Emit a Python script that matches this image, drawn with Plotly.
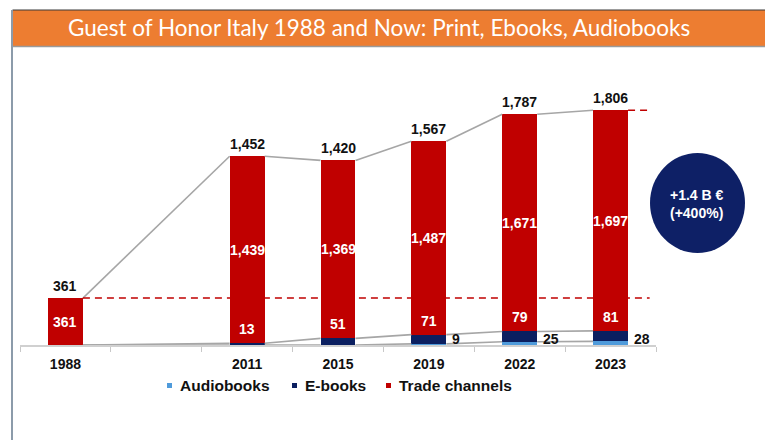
import plotly.graph_objects as go

# ---------------- data ----------------
years = ["1988", "2011", "2015", "2019", "2022", "2023"]
slot_index = [0, 2, 3, 4, 5, 6]          # 1988 is separated by an empty slot
audiobooks = [0, 0, 0, 9, 25, 28]
ebooks = [0, 13, 51, 71, 79, 81]
trade = [361, 1439, 1369, 1487, 1671, 1697]
totals = [361, 1452, 1420, 1567, 1787, 1806]
ebook_labels = [None, 13, 51, 71, 79, 81]
audio_labels = [None, None, None, 9, 25, 28]
series_names = ["Audiobooks", "E-books", "Trade channels"]
title_text = "Guest of Honor Italy 1988 and Now: Print, Ebooks, Audiobooks"
bubble_text = "<b>+1.4 B €<br>(+400%)</b>"

# ---------------- styles ----------------
C_AUDIO = "#4F9BDB"
C_EBOOK = "#0B1F60"
C_TRADE = "#C00000"
C_LINE = "#A6A6A6"
C_ORANGE = "#ED7D31"
FONT = "Liberation Sans, Arial, sans-serif"
BW = 0.385

W, H = 765, 440
ML, MR, MT, MB = 20, 109, 85, 95
PW, PH = W - ML - MR, H - MT - MB


def px(x):
    return (x - ML) / PW


def py(y):
    return (H - MB - y) / PH


def fmt(v):
    return f"{v:,}"


fig = go.Figure()

colors = [C_AUDIO, C_EBOOK, C_TRADE]
for name, vals, col in zip(series_names, [audiobooks, ebooks, trade], colors):
    fig.add_trace(go.Bar(x=slot_index, y=vals, width=BW, name=name,
                         marker=dict(color=col, line=dict(width=0)),
                         showlegend=False, hoverinfo="skip"))

# series lines (connect bar edges)
cum_audio = audiobooks
cum_ebook = [a + e for a, e in zip(audiobooks, ebooks)]
cum_total = [a + e + t for a, e, t in zip(audiobooks, ebooks, trade)]
for level in [cum_audio, cum_ebook, cum_total]:
    xs, ys = [], []
    for i in range(len(slot_index) - 1):
        xs += [slot_index[i] + BW / 2, slot_index[i + 1] - BW / 2, None]
        ys += [level[i], level[i + 1], None]
    fig.add_trace(go.Scatter(x=xs, y=ys, mode="lines",
                             line=dict(color=C_LINE, width=1.6),
                             showlegend=False, hoverinfo="skip"))

ann = []
for i, xi in enumerate(slot_index):
    # total labels
    ann.append(dict(x=xi, y=cum_total[i], text=f"<b>{fmt(totals[i])}</b>",
                    showarrow=False, yanchor="bottom", yshift=2,
                    font=dict(family=FONT, size=14, color="#111111")))
    # trade labels
    ann.append(dict(x=xi, y=cum_ebook[i] + trade[i] / 2, text=f"<b>{fmt(trade[i])}</b>",
                    showarrow=False, yanchor="middle",
                    font=dict(family=FONT, size=14, color="white")))
    if ebook_labels[i] is not None:
        ann.append(dict(x=xi, y=cum_ebook[i], text=f"<b>{fmt(ebook_labels[i])}</b>",
                        showarrow=False, yanchor="bottom", yshift=4,
                        font=dict(family=FONT, size=14, color="white")))
    if audio_labels[i] is not None:
        ann.append(dict(x=xi + BW / 2, y=0, text=f"<b>{fmt(audio_labels[i])}</b>",
                        showarrow=False, xanchor="left", yanchor="middle",
                        xshift=4, yshift=6,
                        font=dict(family=FONT, size=14, color="#111111")))

# title
ann.append(dict(xref="paper", yref="paper", x=px(66), y=py(28), text=title_text,
                showarrow=False, xanchor="left", yanchor="middle",
                font=dict(family="Lato, Carlito, Calibri, sans-serif", size=22.5, color="white")))
# bubble text
ann.append(dict(xref="paper", yref="paper", x=px(697), y=py(204), text=bubble_text,
                showarrow=False, xanchor="center", yanchor="middle",
                font=dict(family=FONT, size=14, color="white")))

# legend (custom)
legend_items = [(167, 178, C_AUDIO), (292, 303, C_EBOOK), (386, 397, C_TRADE)]
shapes = []
for (sq_x, tx_x, col), name in zip(legend_items, series_names):
    shapes.append(dict(type="rect", xref="paper", yref="paper",
                       x0=px(sq_x), x1=px(sq_x + 5), y0=py(388), y1=py(383),
                       fillcolor=col, line=dict(width=0)))
    ann.append(dict(xref="paper", yref="paper", x=px(tx_x), y=py(386),
                    text=f"<b>{name}</b>", showarrow=False,
                    xanchor="left", yanchor="middle",
                    font=dict(family=FONT, size=15.5, color="#111111")))

# title bar and slide frame
shapes += [
    dict(type="rect", xref="paper", yref="paper", x0=px(12.5), x1=px(766),
         y0=py(46), y1=py(10), fillcolor=C_ORANGE, line=dict(width=0), layer="below"),
    dict(type="line", xref="paper", yref="paper", x0=px(12.5), x1=px(766),
         y0=py(10), y1=py(10), line=dict(color="#3A3A3A", width=1.2)),
    dict(type="line", xref="paper", yref="paper", x0=px(12.5), x1=px(766),
         y0=py(46.5), y1=py(46.5), line=dict(color="#9A9A9A", width=1.5)),
    dict(type="line", xref="paper", yref="paper", x0=px(12), x1=px(12),
         y0=py(10), y1=py(441), line=dict(color="#8C9BAA", width=2)),
    # bubble
    dict(type="circle", xref="paper", yref="paper", x0=px(650), x1=px(745),
         y0=py(253), y1=py(153), fillcolor="#0E2066", line=dict(width=0)),
    # dashed reference lines
    dict(type="line", xref="x", yref="y", x0=slot_index[0] + BW / 2, x1=6.43,
         y0=totals[0], y1=totals[0], line=dict(color=C_TRADE, width=1.6, dash="7px,5px")),
    dict(type="line", xref="x", yref="y", x0=slot_index[-1] + BW / 2, x1=6.43,
         y0=cum_total[-1], y1=cum_total[-1], line=dict(color=C_TRADE, width=1.6, dash="7px,5px")),
]

fig.update_layout(
    width=W, height=H,
    margin=dict(l=ML, r=MR, t=MT, b=MB, pad=0),
    paper_bgcolor="white", plot_bgcolor="white",
    barmode="stack", bargap=0,
    annotations=ann, shapes=shapes,
    showlegend=False,
    xaxis=dict(range=[-0.5, 6.5], tickvals=slot_index,
               ticktext=[f"<b>{y}</b>" for y in years],
               tickfont=dict(family=FONT, size=14, color="#111111"),
               ticks="", showgrid=False, zeroline=False,
               showline=True, linecolor="#D0D0D0", linewidth=1.5,
               ticklabelstandoff=5,
               minor=dict(tickmode="linear", tick0=-0.5, dtick=1, ticks="outside",
                          ticklen=5, tickcolor="#C8C8C8", tickwidth=1, showgrid=False),
               fixedrange=True),
    yaxis=dict(range=[0, 2000], visible=False, fixedrange=True),
)

fig.write_html("out.html")
